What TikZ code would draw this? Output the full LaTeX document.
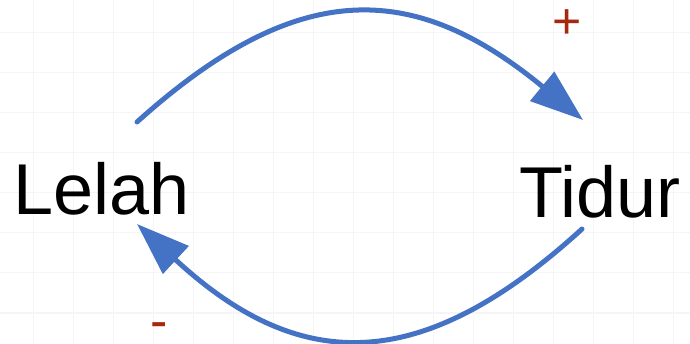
\documentclass[tikz,border=0pt]{standalone}
\usepackage{fontspec}
\setmainfont{Liberation Sans}
\usetikzlibrary{arrows.meta}
\definecolor{loopblue}{HTML}{4472C4}
\definecolor{signred}{RGB}{165,40,15}
\begin{document}
\begin{tikzpicture}[x=1pt,y=-1pt,
  word/.style={inner sep=0pt,font=\fontsize{72}{80}\selectfont,text=black},
  sign/.style={inner sep=0pt,text=signred},
  link/.style={draw=loopblue,line width=5pt,line cap=round,-{Triangle[length=53pt,width=37pt]},fill=none}]
\useasboundingbox (0,0) rectangle (690,344);
\fill[white] (0,0) rectangle (690,344);
\foreach \g in {33,73,...,673} \draw[black!4,line width=1pt] (\g,0) -- (\g,344);
\foreach \g in {33,73,...,313} \draw[black!4,line width=1pt] (0,\g) -- (690,\g);
\node[word,anchor=base west] (lelah) at (13,215) {Lelah};
\node[word,anchor=base west] (tidur) at (519,218) {Tidur};
\coordinate (topstart) at (137,122);
\coordinate (topend) at (583,120);
\coordinate (botstart) at (582,229);
\coordinate (botend) at (137,224);
\draw[link] (topstart) .. controls (296,-21) and (412,-21) .. (topend);
\draw[link] (botstart) .. controls (422,375) and (300,375) .. (botend);
\node[sign,font=\fontsize{50}{60}\selectfont] (plus) at (567,24) {+};
\node[sign,font=\fontsize{52}{60}\selectfont] (minus) at (159,331) {-};
\end{tikzpicture}
\end{document}
